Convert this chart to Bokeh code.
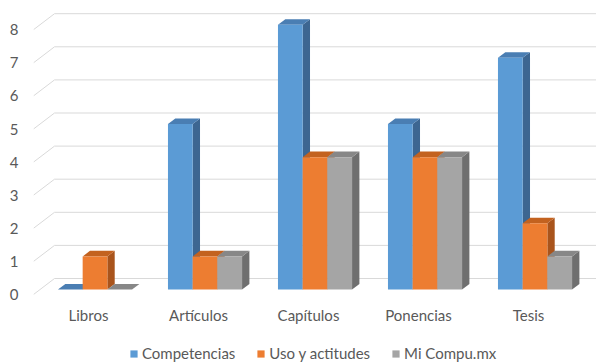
from bokeh.plotting import figure
from bokeh.models import Legend, LegendItem, FixedTicker, Range1d
from bokeh.layouts import column
from bokeh.embed import file_html
from bokeh.resources import INLINE

categories = ["Libros", "Artículos", "Capítulos", "Ponencias", "Tesis"]
series_names = ["Competencias", "Uso y actitudes", "Mi Compu.mx"]
competencias = [0, 5, 8, 5, 7]
uso_actitudes = [1, 1, 4, 4, 2]
mi_compu = [0, 1, 4, 4, 1]
y_ticks = [0, 1, 2, 3, 4, 5, 6, 7, 8]

series_values = [competencias, uso_actitudes, mi_compu]
front_colors = ["#5B9BD5", "#ED7D31", "#A5A5A5"]
side_colors = ["#3D6691", "#A9541C", "#6F6F6F"]
top_colors = ["#4A7EB3", "#C3621F", "#878787"]

FONT = "Lato"
TXT = "#595959"

W = 596
H1, H2 = 330, 33
left_px = 33
frame_bottom_px = 297
bottom_px = H1 - frame_bottom_px
frame_w = W - left_px
frame_h = frame_bottom_px
px_per_cat = 110.0
px_per_val = 33.1
x_end = frame_w / px_per_cat
y_start = -(frame_bottom_px - 294) / px_per_val
y_end = y_start + frame_h / px_per_val

DX = 21 / px_per_cat   # depth shift in category units
DY = 16 / px_per_val   # depth shift in value units
d0, d1 = 0.31, 0.66
bw = 0.2245

p = figure(width=W, height=H1, output_backend="svg", toolbar_location=None,
           x_range=Range1d(0, x_end), y_range=Range1d(y_start, y_end),
           min_border_left=left_px, min_border_right=0, min_border_top=0,
           min_border_bottom=bottom_px)
p.outline_line_color = None
p.background_fill_color = "white"
p.border_fill_color = "white"
p.xgrid.visible = False
p.ygrid.visible = False

# axes
p.yaxis.ticker = FixedTicker(ticks=y_ticks)
p.yaxis.axis_line_color = None
p.yaxis.major_tick_line_color = None
p.yaxis.minor_tick_line_color = None
p.yaxis.major_label_text_font = FONT
p.yaxis.major_label_text_font_size = "15px"
p.yaxis.major_label_text_color = TXT
p.yaxis.major_label_standoff = 9

centers = [i + 0.5 for i in range(len(categories))]
p.xaxis.ticker = FixedTicker(ticks=centers)
p.xaxis.major_label_overrides = {c: n for c, n in zip(centers, categories)}
p.xaxis.axis_line_color = None
p.xaxis.major_tick_line_color = None
p.xaxis.minor_tick_line_color = None
p.xaxis.major_label_text_font = FONT
p.xaxis.major_label_text_font_size = "15px"
p.xaxis.major_label_text_color = TXT
p.xaxis.major_label_standoff = 2

# back wall / gridlines
gx, gy = [], []
for v in y_ticks:
    gx.append([0, DX, x_end + 1])
    gy.append([v, v + DY, v + DY])
p.multi_line(gx, gy, line_color="#D9D9D9", line_width=1)

for s, vals in enumerate(series_values):
    lefts, rights, tops, bottoms = [], [], [], []
    sx, sy, tx, ty = [], [], [], []
    for i, v in enumerate(vals):
        L = centers[i] + (s - 1.5) * bw + d0 * DX
        R = L + bw
        sh = (d1 - d0) * DX
        lefts.append(L); rights.append(R)
        bottoms.append(d0 * DY); tops.append(v + d0 * DY)
        sx.append([R, R + sh, R + sh, R])
        sy.append([d0 * DY, d1 * DY, v + d1 * DY, v + d0 * DY])
        tx.append([L, R, R + sh, L + sh])
        ty.append([v + d0 * DY, v + d0 * DY, v + d1 * DY, v + d1 * DY])
    p.patches(sx, sy, fill_color=side_colors[s], line_color=None)
    p.patches(tx, ty, fill_color=top_colors[s], line_color=None)
    p.quad(left=lefts, right=rights, bottom=bottoms, top=tops,
           fill_color=front_colors[s], line_color=None)

# legend strip (its frame is aligned with the main plot's frame by the column)
q = figure(width=W, height=H2, output_backend="svg", toolbar_location=None,
           x_range=Range1d(0, 1), y_range=Range1d(0, 1),
           min_border_left=0, min_border_right=0, min_border_top=0,
           min_border_bottom=0)
q.axis.visible = False
q.xgrid.visible = False
q.ygrid.visible = False
q.outline_line_color = None
legend_items = []
for s, name in enumerate(series_names):
    # a swatch renderer kept outside the visible range: only its legend glyph shows
    r = q.quad(left=[-3], right=[-2], bottom=[-3], top=[-2],
               fill_color=front_colors[s], line_color=None)
    legend_items.append(LegendItem(label=name, renderers=[r]))

legend = Legend(items=legend_items, orientation="horizontal",
                location=(96, 1), glyph_width=9, glyph_height=9,
                label_standoff=4, spacing=21, padding=0, margin=0,
                label_text_font=FONT, label_text_font_size="15px",
                label_text_color=TXT, border_line_color=None,
                background_fill_alpha=0, label_height=18)
q.add_layout(legend, "center")

layout = column(p, q, spacing=0)
open("out.html", "w").write(file_html(layout, INLINE))
